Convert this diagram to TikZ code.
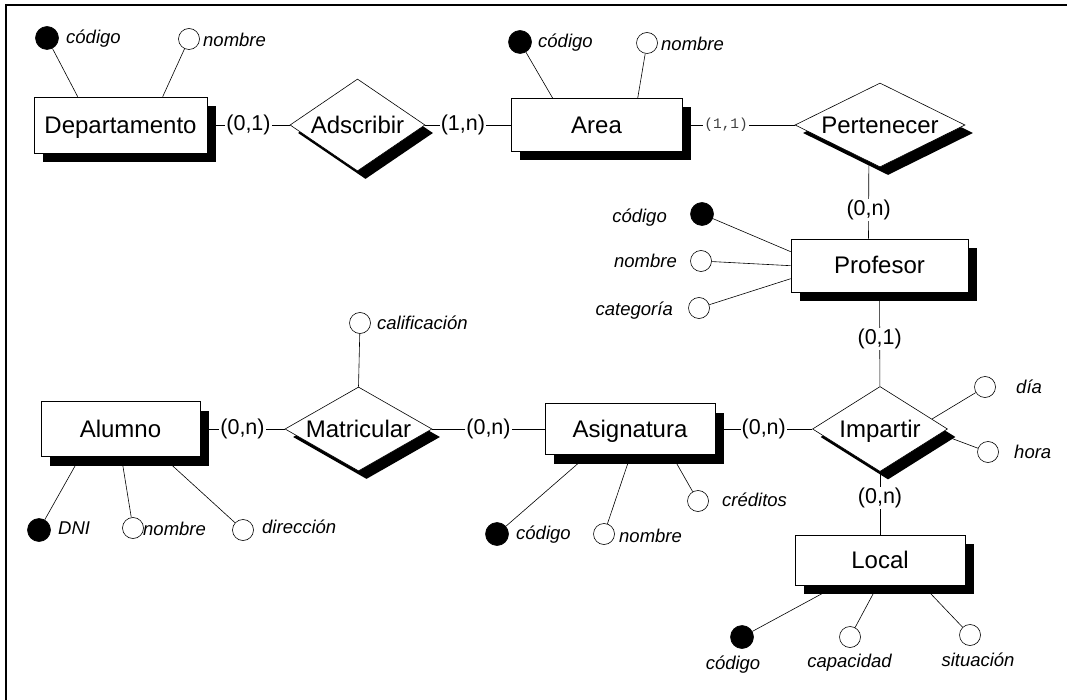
\documentclass[tikz,border=0pt]{standalone}
\usepackage{fontspec}
\setmainfont{Liberation Sans}
\newfontfamily\monocard{Liberation Mono}
\usetikzlibrary{shapes.geometric,shadows,backgrounds,calc}

\tikzset{
  entidad/.style={rectangle, draw, fill=white, line width=0.6pt,
    text height=20pt, text depth=3pt, font=\fontsize{24}{28}\selectfont,
    drop shadow={shadow xshift=9pt, shadow yshift=-9pt, opacity=1, fill=black}},
  relacion/.style={diamond, draw, fill=white, line width=0.6pt, inner sep=0pt,
    text height=20pt, text depth=3pt, font=\fontsize{24}{28}\selectfont,
    drop shadow={shadow xshift=8pt, shadow yshift=-8pt, opacity=1, fill=black}},
  atributo/.style={circle, draw, fill=white, line width=0.6pt, minimum size=21pt, inner sep=0pt},
  clave/.style={circle, draw, fill=black, line width=0.6pt, minimum size=23pt, inner sep=0pt},
  nombreatr/.style={inner sep=0pt, font=\fontsize{18.5}{22}\selectfont\itshape},
  card/.style={fill=white, inner sep=1pt, font=\fontsize{21.5}{24}\selectfont},
  cardgris/.style={card, text=black!75, font=\monocard\fontsize{14.5}{17}\selectfont},
  enlace/.style={line width=0.6pt}
}

\begin{document}
\begin{tikzpicture}[x=1pt, y=-1pt]
  \useasboundingbox (0,0) rectangle (1067,700);

  % marco
  \draw[line width=2pt] (6,700) -- (6,5) -- (1067,5);

  % entidades
  \node[entidad, minimum width=173pt, minimum height=56pt] (departamento) at (120.5,125) {Departamento};
  \node[entidad, minimum width=171pt, minimum height=53pt] (area) at (596.5,125) {Area};
  \node[entidad, minimum width=177pt, minimum height=53pt] (profesor) at (879.5,265.5) {Profesor};
  \node[entidad, minimum width=159pt, minimum height=55pt] (alumno) at (120.5,429) {Alumno};
  \node[entidad, minimum width=170pt, minimum height=51pt] (asignatura) at (630,429) {Asignatura};
  \node[entidad, minimum width=170pt, minimum height=50pt] (local) at (880,560) {Local};

  % relaciones
  \node[relacion, aspect=1.5, minimum width=135pt, minimum height=92pt] (adscribir) at (357.5,125) {Adscribir};
  \node[relacion, aspect=2, minimum width=170pt, minimum height=84pt] (pertenecer) at (880,125) {Pertenecer};
  \node[relacion, aspect=1.75, minimum width=147pt, minimum height=84pt] (matricular) at (358.5,429) {Matricular};
  \node[relacion, aspect=1.6, minimum width=135pt, minimum height=85pt] (impartir) at (880,429) {Impartir};

  % atributos
  \node[clave] (dep-cod) at (47,38) {};
  \node[nombreatr, anchor=west] (dep-cod-t) at (66,38.5) {código};
  \node[atributo] (dep-nom) at (189,39) {};
  \node[nombreatr, anchor=west] (dep-nom-t) at (203,39.5) {nombre};

  \node[clave] (area-cod) at (520,42) {};
  \node[nombreatr, anchor=west] (area-cod-t) at (538,43) {código};
  \node[atributo] (area-nom) at (647,43) {};
  \node[nombreatr, anchor=west] (area-nom-t) at (661,44) {nombre};

  \node[clave] (prof-cod) at (702,214) {};
  \node[nombreatr, anchor=east] (prof-cod-t) at (667,217.5) {código};
  \node[atributo] (prof-nom) at (701,261) {};
  \node[nombreatr, anchor=east] (prof-nom-t) at (677,261) {nombre};
  \node[atributo] (prof-cat) at (699,308) {};
  \node[nombreatr, anchor=east] (prof-cat-t) at (673,311) {categoría};

  \node[atributo] (mat-cal) at (360,323) {};
  \node[nombreatr, anchor=west] (mat-cal-t) at (377,323) {calificación};

  \node[clave] (alu-dni) at (39,530) {};
  \node[nombreatr, anchor=west] (alu-dni-t) at (58,528.5) {DNI};
  \node[atributo] (alu-nom) at (133,528) {};
  \node[nombreatr, anchor=west] (alu-nom-t) at (143,529) {nombre};
  \node[atributo] (alu-dir) at (243,530) {};
  \node[nombreatr, anchor=west] (alu-dir-t) at (262,527) {dirección};

  \node[clave] (asig-cod) at (497,534) {};
  \node[nombreatr, anchor=west] (asig-cod-t) at (516,535) {código};
  \node[atributo] (asig-nom) at (604,534) {};
  \node[nombreatr, anchor=west] (asig-nom-t) at (619,536) {nombre};
  \node[atributo] (asig-cre) at (698,501) {};
  \node[nombreatr, anchor=west] (asig-cre-t) at (722,499.5) {créditos};

  \node[atributo] (imp-dia) at (985,387) {};
  \node[nombreatr, anchor=west] (imp-dia-t) at (1016,386.5) {día};
  \node[atributo] (imp-hor) at (988,452) {};
  \node[nombreatr, anchor=west] (imp-hor-t) at (1014,451.5) {hora};

  \node[clave] (loc-cod) at (742,637) {};
  \node[nombreatr] (loc-cod-t) at (733,665) {código};
  \node[atributo] (loc-cap) at (850,637) {};
  \node[nombreatr] (loc-cap-t) at (849.5,662.5) {capacidad};
  \node[atributo] (loc-sit) at (970,635) {};
  \node[nombreatr] (loc-sit-t) at (978,660) {situación};

  \begin{pgfonlayer}{background}
    % relaciones con cardinalidades
    \draw[enlace] (departamento) -- node[card] {(0,1)} (adscribir);
    \draw[enlace] (adscribir) -- node[card, pos=0.44] {(1,n)} (area);
    \draw[enlace] (area) -- node[cardgris, pos=0.39] {(1,1)} (pertenecer);
    \draw[enlace] ($(pertenecer.center)+(-11,0)$) -- node[card, pos=0.75] {(0,n)} ($(profesor.north)+(-11,0)$);
    \draw[enlace] (profesor) -- node[card] {(0,1)} (impartir);
    \draw[enlace] (alumno) -- node[card] {(0,n)} (matricular);
    \draw[enlace] (matricular) -- node[card] {(0,n)} (asignatura);
    \draw[enlace] (asignatura) -- node[card] {(0,n)} (impartir);
    \draw[enlace] (impartir) -- node[card, pos=0.42] {(0,n)} (local);

    % atributos
    \draw[enlace] (dep-cod) -- ($(departamento.north west)+(44,0)$);
    \draw[enlace] (dep-nom) -- ($(departamento.north west)+(129,0)$);
    \draw[enlace] (area-cod) -- ($(area.north west)+(42,0)$);
    \draw[enlace] (area-nom) -- ($(area.north west)+(127,0)$);
    \draw[enlace] (prof-cod) -- ($(profesor.north west)+(0,13)$);
    \draw[enlace] (prof-nom) -- ($(profesor.north west)+(0,27)$);
    \draw[enlace] (prof-cat) -- ($(profesor.north west)+(0,40)$);
    \draw[enlace] (mat-cal) -- (matricular.north);
    \draw[enlace] (alu-dni) -- ($(alumno.south west)+(39.5,0)$);
    \draw[enlace] (alu-nom) -- ($(alumno.south west)+(80.7,0)$);
    \draw[enlace] (alu-dir) -- ($(alumno.south west)+(122,0)$);
    \draw[enlace] (asig-cod) -- ($(asignatura.south west)+(43.3,0)$);
    \draw[enlace] (asig-nom) -- ($(asignatura.south west)+(86,0)$);
    \draw[enlace] (asig-cre) -- ($(asignatura.south west)+(127,0)$);
    \draw[enlace] (imp-dia) -- ($(impartir.center)+(52,-10)$);
    \draw[enlace] (imp-hor) -- ($(impartir.center)+(60,5)$);
    \draw[enlace] (loc-cod) -- ($(local.south west)+(42.7,0)$);
    \draw[enlace] (loc-cap) -- ($(local.south west)+(83,0)$);
    \draw[enlace] (loc-sit) -- ($(local.south west)+(128,0)$);
  \end{pgfonlayer}
\end{tikzpicture}
\end{document}
